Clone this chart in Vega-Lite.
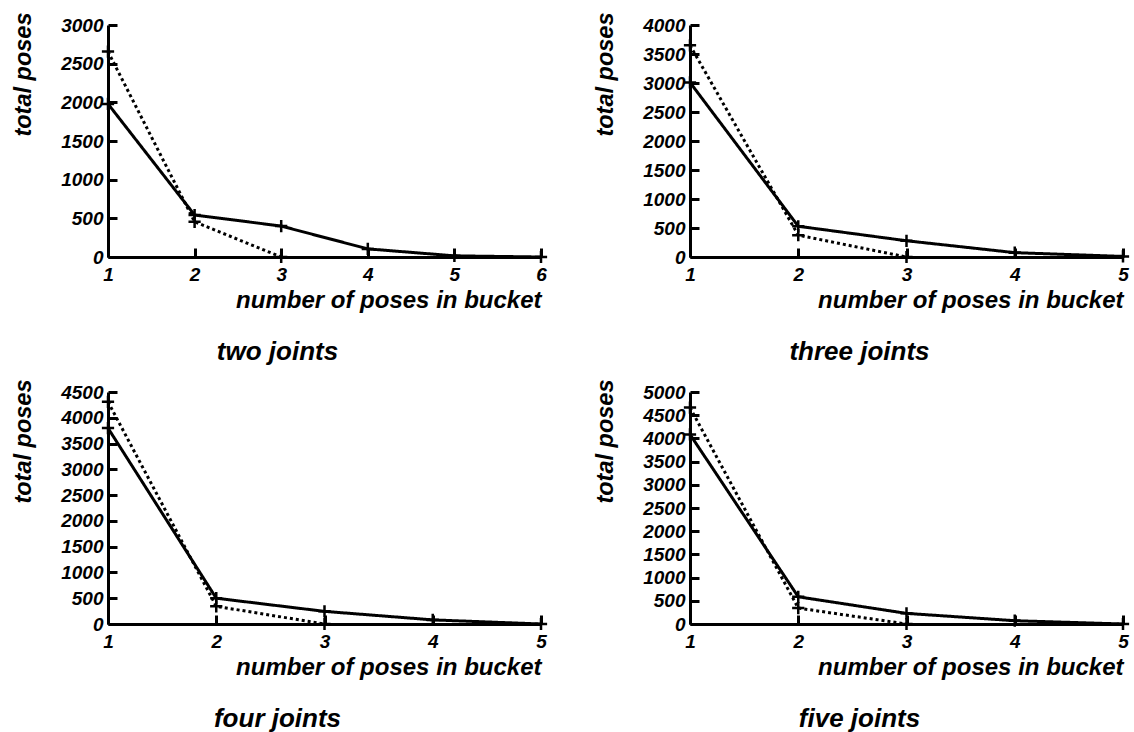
{
  "$schema": "https://vega.github.io/schema/vega-lite/v6.json",
  "padding": {"left": 10, "top": 12, "right": 2, "bottom": 2},
  "background": "white",
  "datasets": {
    "poses": [
      {"panel": "two", "series": "solid", "x": 1, "y": 1980},
      {"panel": "two", "series": "solid", "x": 2, "y": 543},
      {"panel": "two", "series": "solid", "x": 3, "y": 400},
      {"panel": "two", "series": "solid", "x": 4, "y": 105},
      {"panel": "two", "series": "solid", "x": 5, "y": 15},
      {"panel": "two", "series": "solid", "x": 6, "y": 0},
      {"panel": "two", "series": "dotted", "x": 1, "y": 2656},
      {"panel": "two", "series": "dotted", "x": 2, "y": 455},
      {"panel": "two", "series": "dotted", "x": 3, "y": 0},
      {"panel": "three", "series": "solid", "x": 1, "y": 3010},
      {"panel": "three", "series": "solid", "x": 2, "y": 530},
      {"panel": "three", "series": "solid", "x": 3, "y": 280},
      {"panel": "three", "series": "solid", "x": 4, "y": 75},
      {"panel": "three", "series": "solid", "x": 5, "y": 10},
      {"panel": "three", "series": "dotted", "x": 1, "y": 3650},
      {"panel": "three", "series": "dotted", "x": 2, "y": 377},
      {"panel": "three", "series": "dotted", "x": 3, "y": 0},
      {"panel": "four", "series": "solid", "x": 1, "y": 3800},
      {"panel": "four", "series": "solid", "x": 2, "y": 500},
      {"panel": "four", "series": "solid", "x": 3, "y": 245},
      {"panel": "four", "series": "solid", "x": 4, "y": 80},
      {"panel": "four", "series": "solid", "x": 5, "y": 0},
      {"panel": "four", "series": "dotted", "x": 1, "y": 4310},
      {"panel": "four", "series": "dotted", "x": 2, "y": 343},
      {"panel": "four", "series": "dotted", "x": 3, "y": 0},
      {"panel": "five", "series": "solid", "x": 1, "y": 4086},
      {"panel": "five", "series": "solid", "x": 2, "y": 586},
      {"panel": "five", "series": "solid", "x": 3, "y": 229},
      {"panel": "five", "series": "solid", "x": 4, "y": 71},
      {"panel": "five", "series": "solid", "x": 5, "y": 0},
      {"panel": "five", "series": "dotted", "x": 1, "y": 4664},
      {"panel": "five", "series": "dotted", "x": 2, "y": 343},
      {"panel": "five", "series": "dotted", "x": 3, "y": 0}
    ]
  },
  "columns": 2,
  "spacing": {"row": 135, "column": 149},
  "bounds": "flush",
  "concat": [
    {
      "width": 433, "height": 232,
      "data": {"name": "poses"},
      "transform": [{"filter": "datum.panel === 'two'"}],
      "title": {"text": "two joints", "orient": "bottom", "frame": "group", "offset": 27, "dx": -47},
      "encoding": {
        "x": {"field": "x", "type": "quantitative", "scale": {"domain": [1, 6], "nice": false, "zero": false}, "axis": {"values": [1, 2, 3, 4, 5, 6], "format": "d", "title": "number of poses in bucket"}},
        "y": {"field": "y", "type": "quantitative", "scale": {"domain": [0, 3000], "nice": false}, "axis": {"values": [0, 500, 1000, 1500, 2000, 2500, 3000], "format": "d", "title": "total poses"}},
        "strokeDash": {"field": "series", "type": "nominal", "scale": {"domain": ["solid", "dotted"], "range": [[1, 0], [3, 3]]}, "legend": null},
        "detail": {"field": "series"}
      },
      "layer": [
        {"mark": {"type": "line", "color": "black", "strokeWidth": 3}},
        {"mark": {"type": "point", "shape": "M-1,0L1,0M0,-1L0,1", "size": 150, "filled": false, "color": "black", "strokeWidth": 2.5, "opacity": 1}, "encoding": {"strokeDash": {"value": [1, 0]}}}
      ]
    },
    {
      "width": 433, "height": 232,
      "data": {"name": "poses"},
      "transform": [{"filter": "datum.panel === 'three'"}],
      "title": {"text": "three joints", "orient": "bottom", "frame": "group", "offset": 27, "dx": -47},
      "encoding": {
        "x": {"field": "x", "type": "quantitative", "scale": {"domain": [1, 5], "nice": false, "zero": false}, "axis": {"values": [1, 2, 3, 4, 5], "format": "d", "title": "number of poses in bucket"}},
        "y": {"field": "y", "type": "quantitative", "scale": {"domain": [0, 4000], "nice": false}, "axis": {"values": [0, 500, 1000, 1500, 2000, 2500, 3000, 3500, 4000], "format": "d", "title": "total poses"}},
        "strokeDash": {"field": "series", "type": "nominal", "scale": {"domain": ["solid", "dotted"], "range": [[1, 0], [3, 3]]}, "legend": null},
        "detail": {"field": "series"}
      },
      "layer": [
        {"mark": {"type": "line", "color": "black", "strokeWidth": 3}},
        {"mark": {"type": "point", "shape": "M-1,0L1,0M0,-1L0,1", "size": 150, "filled": false, "color": "black", "strokeWidth": 2.5, "opacity": 1}, "encoding": {"strokeDash": {"value": [1, 0]}}}
      ]
    },
    {
      "width": 433, "height": 232,
      "data": {"name": "poses"},
      "transform": [{"filter": "datum.panel === 'four'"}],
      "title": {"text": "four joints", "orient": "bottom", "frame": "group", "offset": 27, "dx": -47},
      "encoding": {
        "x": {"field": "x", "type": "quantitative", "scale": {"domain": [1, 5], "nice": false, "zero": false}, "axis": {"values": [1, 2, 3, 4, 5], "format": "d", "title": "number of poses in bucket"}},
        "y": {"field": "y", "type": "quantitative", "scale": {"domain": [0, 4500], "nice": false}, "axis": {"values": [0, 500, 1000, 1500, 2000, 2500, 3000, 3500, 4000, 4500], "format": "d", "title": "total poses"}},
        "strokeDash": {"field": "series", "type": "nominal", "scale": {"domain": ["solid", "dotted"], "range": [[1, 0], [3, 3]]}, "legend": null},
        "detail": {"field": "series"}
      },
      "layer": [
        {"mark": {"type": "line", "color": "black", "strokeWidth": 3}},
        {"mark": {"type": "point", "shape": "M-1,0L1,0M0,-1L0,1", "size": 150, "filled": false, "color": "black", "strokeWidth": 2.5, "opacity": 1}, "encoding": {"strokeDash": {"value": [1, 0]}}}
      ]
    },
    {
      "width": 433, "height": 232,
      "data": {"name": "poses"},
      "transform": [{"filter": "datum.panel === 'five'"}],
      "title": {"text": "five joints", "orient": "bottom", "frame": "group", "offset": 27, "dx": -47},
      "encoding": {
        "x": {"field": "x", "type": "quantitative", "scale": {"domain": [1, 5], "nice": false, "zero": false}, "axis": {"values": [1, 2, 3, 4, 5], "format": "d", "title": "number of poses in bucket"}},
        "y": {"field": "y", "type": "quantitative", "scale": {"domain": [0, 5000], "nice": false}, "axis": {"values": [0, 500, 1000, 1500, 2000, 2500, 3000, 3500, 4000, 4500, 5000], "format": "d", "title": "total poses"}},
        "strokeDash": {"field": "series", "type": "nominal", "scale": {"domain": ["solid", "dotted"], "range": [[1, 0], [3, 3]]}, "legend": null},
        "detail": {"field": "series"}
      },
      "layer": [
        {"mark": {"type": "line", "color": "black", "strokeWidth": 3}},
        {"mark": {"type": "point", "shape": "M-1,0L1,0M0,-1L0,1", "size": 150, "filled": false, "color": "black", "strokeWidth": 2.5, "opacity": 1}, "encoding": {"strokeDash": {"value": [1, 0]}}}
      ]
    }
  ],
  "config": {
    "view": {"stroke": null},
    "font": "Liberation Sans",
    "axis": {
      "grid": false,
      "domainColor": "black",
      "domainWidth": 3,
      "tickColor": "black",
      "tickWidth": 3,
      "labelColor": "black",
      "labelFont": "Liberation Sans",
      "labelFontSize": 19,
      "labelFontWeight": "bold",
      "labelFontStyle": "italic",
      "titleColor": "black",
      "titleFont": "Liberation Sans",
      "titleFontSize": 24,
      "titleFontWeight": "bold",
      "titleFontStyle": "italic"
    },
    "axisX": {"tickSize": -9, "labelPadding": 17, "titleAnchor": "end", "titleBaseline": "top", "titleY": 31, "labelFlush": false},
    "axisY": {"tickSize": -9, "labelPadding": 14, "titleAnchor": "end", "titleAlign": "right", "titleBaseline": "middle", "titleX": -85, "titleY": -13, "titleFontSize": 23.5, "labelFlush": false},
    "title": {"font": "Liberation Sans", "fontSize": 26, "fontWeight": "bold", "fontStyle": "italic", "color": "black", "anchor": "middle"}
  }
}
